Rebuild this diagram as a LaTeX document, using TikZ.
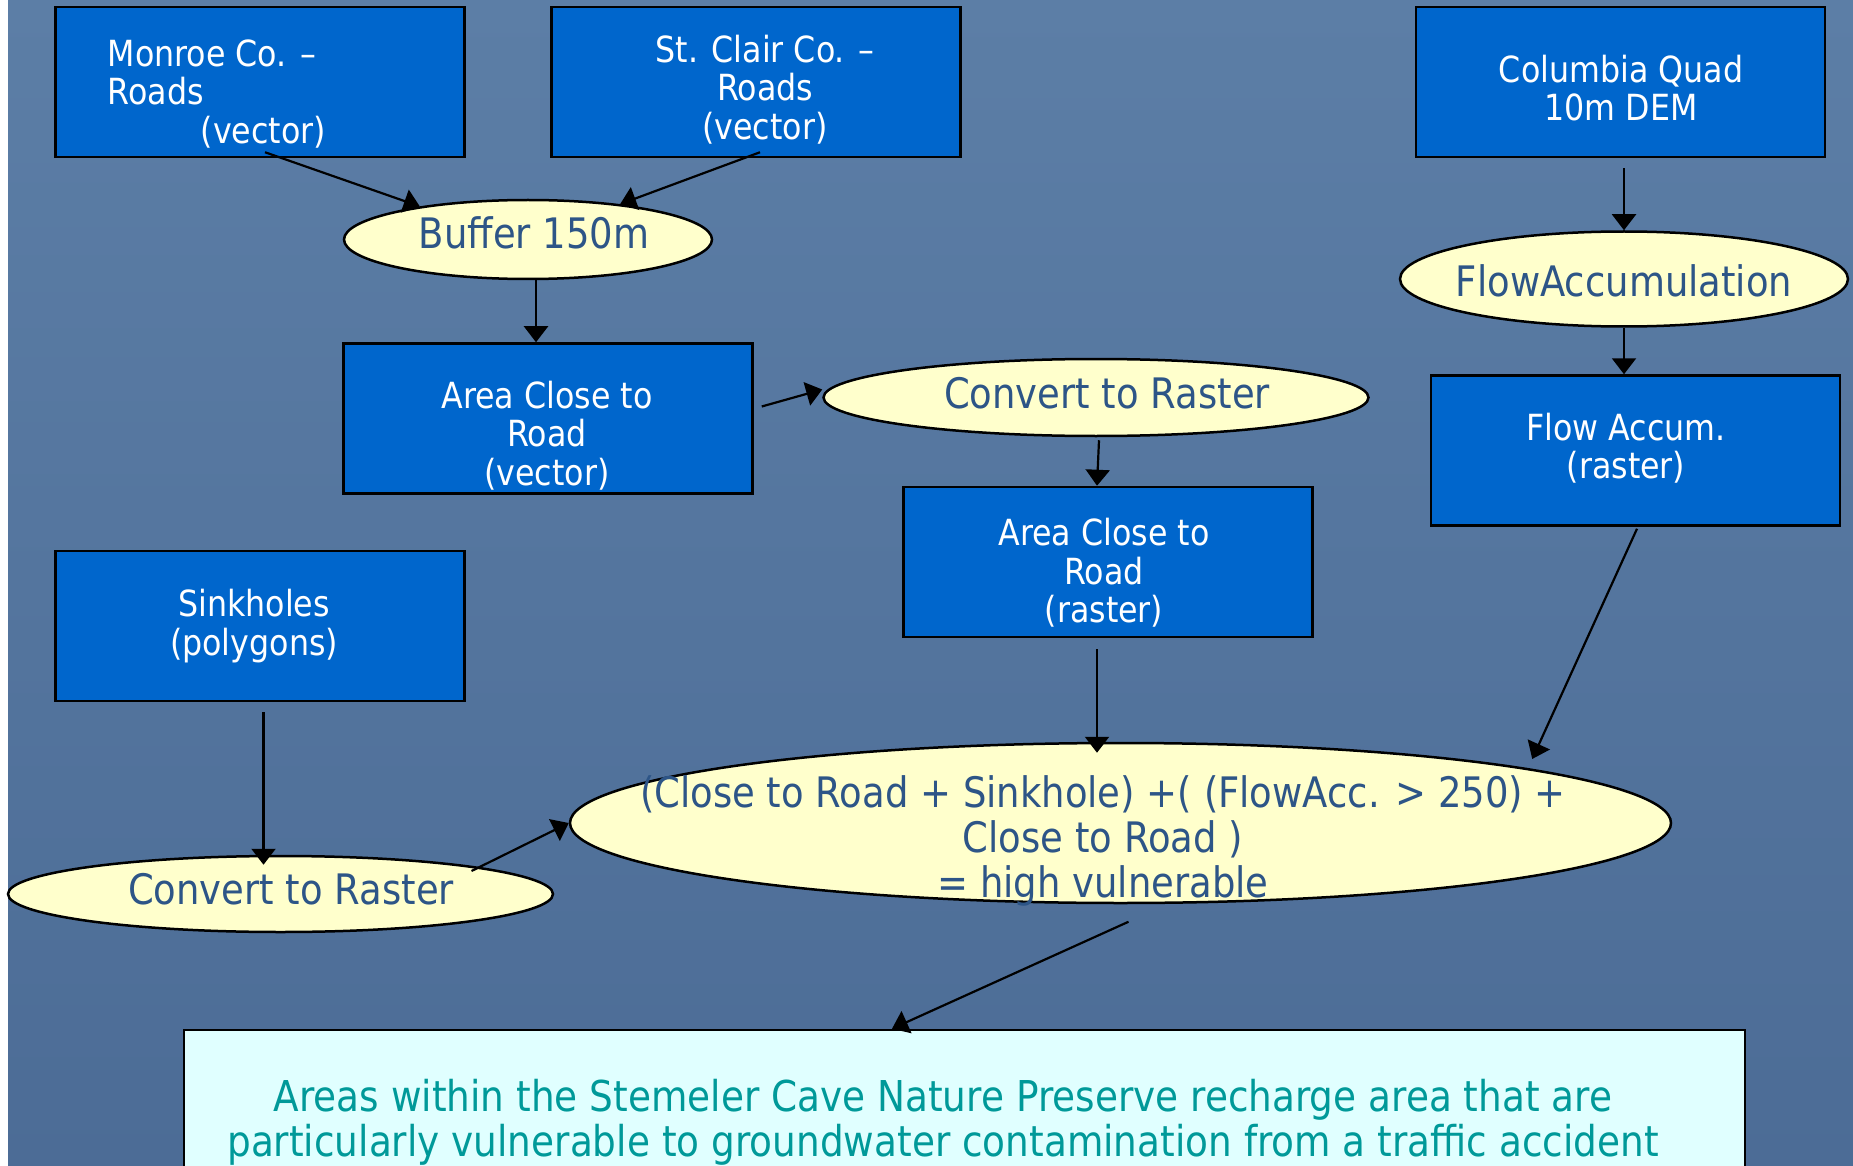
\documentclass[tikz,border=0pt]{standalone}
\usepackage{fontspec}
\setmainfont{DejaVu Sans}[FakeStretch=0.88]
\usetikzlibrary{arrows.meta,shapes.geometric}
\definecolor{bgtop}{RGB}{92,126,166}
\definecolor{bgbot}{RGB}{76,108,150}
\definecolor{boxblue}{RGB}{0,102,204}
\definecolor{ellfill}{RGB}{255,255,204}
\definecolor{elltextcol}{RGB}{45,85,135}
\definecolor{resfill}{RGB}{224,255,255}
\definecolor{restextcol}{RGB}{0,153,153}
\newcommand\myboxfont{\fontsize{36}{38.6}\selectfont}
\newcommand\myellfont{\fontsize{42}{45}\selectfont}
\newcommand\myresfont{\fontsize{42.5}{45}\selectfont}
\tikzset{
  databox/.style={draw=black, line width=2.5pt, fill=boxblue, minimum width=409pt, minimum height=150pt, inner sep=0pt},
  procell/.style={ellipse, draw=black, line width=2.5pt, fill=ellfill, inner sep=0pt},
  boxtext/.style={text=white, font=\myboxfont, inner sep=0pt, align=center},
  elltext/.style={text=elltextcol, font=\myellfont, inner sep=0pt, align=center},
  flow/.style={line width=2.2pt, -{Triangle[length=16pt,width=24pt]}},
}
\begin{document}
\begin{tikzpicture}[x=1pt,y=-1pt]
\useasboundingbox (0,0) rectangle (1853,1166);
\shade[top color=bgtop, bottom color=bgbot] (8,0) rectangle (1853,1166);
\fill[white] (0,0) rectangle (8,1166);

% boxes
\node[databox] (monroe) at (260,82) {};
\node[databox] (stclair) at (756,82) {};
\node[databox] (columbia) at (1620.5,82) {};
\node[databox] (areavec) at (548,418.5) {};
\node[databox] (arearas) at (1108,562) {};
\node[databox] (flowbox) at (1635.5,450.5) {};
\node[databox] (sink) at (260,626) {};

\node[boxtext, align=left, anchor=west] (monroetxt) at (107.5,94) {Monroe Co. –\\Roads\\\hspace*{93pt}(vector)};
\node[boxtext] (stclairtxt) at (765,89.5) {St. Clair Co. –\\Roads\\(vector)};
\node[boxtext] (columbiatxt) at (1621,88) {Columbia Quad\\10m DEM};
\node[boxtext] (areavectxt) at (547,435.5) {Area Close to\\Road\\(vector)};
\node[boxtext] (arearastxt) at (1104,573) {Area Close to\\Road\\(raster)};
\node[boxtext] (flowboxtxt) at (1626,448) {Flow Accum.\\(raster)};
\node[boxtext] (sinktxt) at (254,626) {Sinkholes\\(polygons)};

% ellipses
\node[procell, minimum width=368pt, minimum height=79pt] (buffer) at (528,239.5) {};
\node[procell, minimum width=545pt, minimum height=77pt] (convtop) at (1096,397.5) {};
\node[procell, minimum width=448pt, minimum height=95pt] (flowacc) at (1624,279) {};
\node[procell, minimum width=545pt, minimum height=76pt] (convbot) at (280.5,894) {};
\node[procell, minimum width=1101pt, minimum height=160pt] (big) at (1120.5,823) {};

\node[elltext] (buffertxt) at (534,233) {Buffer 150m};
\node[elltext] (convtoptxt) at (1107,393.5) {Convert to Raster};
\node[elltext] (flowacctxt) at (1624,281) {FlowAccumulation};
\node[elltext] (convbottxt) at (291,889) {Convert to Raster};
\node[elltext] (bigtxt) at (1103,841) {(Close to Road + Sinkhole) +( (FlowAcc. > 250) +\\Close to Road )\\= high vulnerable};

% result
\node[draw=black, line width=2.5pt, fill=resfill, minimum width=1561pt, minimum height=170pt, inner sep=0pt] (result) at (964.5,1115) {};
\node[text=restextcol, font=\myresfont, inner sep=0pt, align=center] (resulttxt) at (943,1122.5) {Areas within the Stemeler Cave Nature Preserve recharge area that are\\particularly vulnerable to groundwater contamination from a traffic accident};

% connectors
\draw[flow] ([xshift=5pt,yshift=6pt]monroe.south) -- (buffer.163.6);
\draw[flow] ([xshift=4pt,yshift=6pt]stclair.south) -- (buffer.21.7);
\draw[flow] ([xshift=8pt]buffer.south) -- ([xshift=8pt]buffer.south |- areavec.north);
\draw[flow] ([xshift=8pt,yshift=12pt]areavec.east) -- ([yshift=8pt]convtop.west);
\draw[flow] ([xshift=3pt,yshift=-3pt]convtop.south) -- ([xshift=-11pt]arearas.north);
\draw[flow] ([xshift=3.5pt,yshift=-10pt]columbia.south) -- (flowacc.north);
\draw[flow] (flowacc.south) -- (flowacc.south |- flowbox.north);
\draw[flow] ([xshift=1.5pt,yshift=-2pt]flowbox.south) -- ([xshift=-12pt,yshift=12pt]big.7.45);
\draw[flow] ([xshift=-11pt,yshift=-11pt]arearas.south) -- ([xshift=-11pt,yshift=-11pt]arearas.south |- big.north);
\draw[flow] ([xshift=3.5pt,yshift=-10pt]sink.south) -- ([xshift=3.5pt,yshift=-10pt]sink.south |- convbot.north);
\draw[flow] ([xshift=191pt,yshift=23pt]convbot.center) -- (big.west);
\draw[flow] ([xshift=8pt,yshift=-17.5pt]big.south) -- ([xshift=-72.5pt]result.north);
\end{tikzpicture}
\end{document}
